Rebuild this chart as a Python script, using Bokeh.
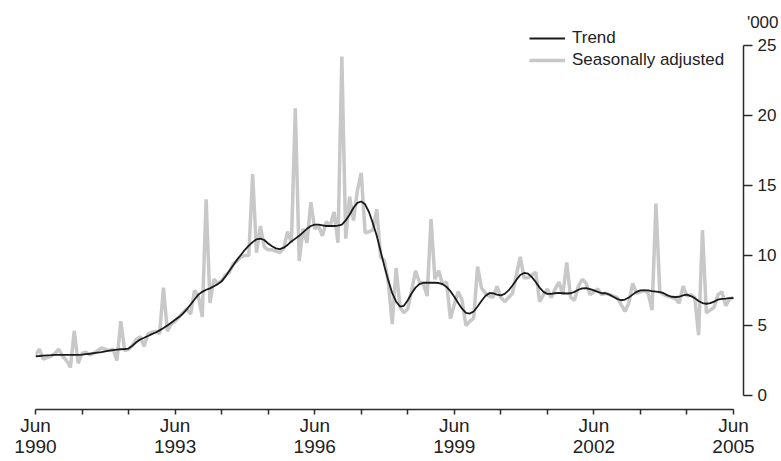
from bokeh.plotting import figure
from bokeh.models import Range1d, FixedTicker, Legend, LegendItem, Title
from bokeh.embed import file_html
from bokeh.resources import INLINE

# Monthly data, Jun 1990 .. Jun 2005 ('000)
start_year = 1990
trend = [
    2.8, 2.82, 2.85, 2.87, 2.88, 2.9, 2.9, 2.9, 2.9, 2.9, 2.9, 2.9,
    2.92, 2.95, 2.98, 3.02, 3.06, 3.1, 3.15, 3.2, 3.24, 3.28, 3.3, 3.32,
    3.35, 3.55, 3.8, 4.0, 4.12, 4.25, 4.38, 4.5, 4.65, 4.82, 5.0, 5.2,
    5.4, 5.6, 5.85, 6.15, 6.5, 6.85, 7.2, 7.4, 7.55, 7.65, 7.8, 7.95,
    8.15, 8.5, 8.9, 9.3, 9.7, 10.05, 10.4, 10.7, 10.95, 11.15, 11.2, 11.1,
    10.85, 10.65, 10.5, 10.45, 10.55, 10.75, 11.0, 11.2, 11.4, 11.65, 11.9, 12.1,
    12.2, 12.2, 12.15, 12.1, 12.1, 12.1, 12.12, 12.2, 12.5, 12.9, 13.4, 13.75,
    13.85, 13.65, 13.1, 12.3, 11.4, 10.3, 9.2, 8.2, 7.3, 6.7, 6.35, 6.4,
    6.8, 7.3, 7.7, 7.95, 8.05, 8.05, 8.05, 8.05, 8.03, 7.95, 7.75, 7.45,
    7.05, 6.6, 6.2, 5.9, 5.85, 6.0, 6.35, 6.75, 7.1, 7.3, 7.3, 7.2,
    7.15, 7.25, 7.5, 7.85, 8.25, 8.6, 8.75, 8.7, 8.45, 8.1, 7.7, 7.4,
    7.25, 7.25, 7.3, 7.32, 7.3, 7.28, 7.3, 7.4, 7.55, 7.65, 7.67, 7.6,
    7.5, 7.4, 7.3, 7.3, 7.2, 7.05, 6.9, 6.8, 6.85, 7.0, 7.2, 7.4,
    7.5, 7.5, 7.5, 7.45, 7.42, 7.38, 7.3, 7.15, 7.05, 7.03, 7.05, 7.15,
    7.2, 7.1, 6.95, 6.75, 6.6, 6.55, 6.6, 6.7, 6.85, 6.9, 6.92, 6.95, 6.95,
]
seasonally_adjusted = [
    2.9, 3.3, 2.6, 2.7, 2.8, 3.0, 3.3, 2.8, 2.5, 2.0, 4.6, 2.3,
    3.0, 3.1, 2.9, 3.0, 3.2, 3.4, 3.3, 3.2, 3.3, 2.5, 5.3, 3.2,
    3.3, 3.6, 4.0, 4.2, 3.5, 4.4, 4.5, 4.6, 4.4, 7.7, 4.6, 5.1,
    5.3, 5.6, 5.9, 6.2, 5.8, 7.5, 7.1, 5.6, 14.0, 6.6, 8.3, 8.0,
    8.2, 8.6, 8.8, 9.4, 9.6, 9.9, 10.0, 10.0, 15.8, 10.2, 12.1, 10.6,
    10.4, 10.4, 10.3, 10.2, 10.5, 11.7, 10.9, 20.5, 9.6, 11.9, 10.9, 13.8,
    11.9, 12.1, 11.4, 12.4, 12.1, 13.1, 10.9, 24.2, 11.2, 14.2, 12.5, 14.6,
    15.9, 11.6, 11.7, 11.8, 13.3, 9.9, 9.6, 8.0, 5.1, 9.1, 6.3, 5.9,
    6.2, 7.5, 8.9, 8.1, 8.0, 7.1, 12.6, 8.3, 8.9, 7.9, 8.1, 5.5,
    6.5, 7.4, 6.8, 5.0, 5.3, 5.5, 9.2, 7.7, 7.3, 7.1, 7.0, 7.8,
    7.0, 6.7, 7.0, 7.3, 8.6, 9.9, 8.4, 8.4, 8.6, 8.8, 6.7, 7.2,
    7.6, 7.0, 7.6, 8.1, 7.2, 9.5, 7.0, 6.8, 7.8, 8.3, 8.0, 7.2,
    7.4, 7.6, 7.2, 7.3, 7.2, 7.1, 7.0, 6.5, 6.0, 6.6, 8.0, 7.3,
    7.4, 7.5, 7.3, 6.1, 13.7, 7.4, 7.2, 7.1, 7.0, 6.9, 6.6, 7.8,
    7.1, 7.2, 7.0, 4.3, 11.8, 5.9, 6.1, 6.3, 7.2, 7.4, 6.4, 6.9, 7.0,
]
months = list(range(len(trend)))          # months since Jun 1990
label_years = [1990, 1993, 1996, 1999, 2002, 2005]
y_ticks = [0, 5, 10, 15, 20, 25]

p = figure(width=781, height=461,
           x_range=Range1d(0, 182.58), y_range=Range1d(-1.0, 26.2),
           y_axis_location="right",
           output_backend="svg", toolbar_location=None,
           min_border_left=35, min_border_right=38,
           min_border_top=28, min_border_bottom=52)
p.outline_line_color = None
p.grid.visible = False
p.background_fill_color = "white"

r_sa = p.line(months, seasonally_adjusted, line_color="#c8c8c8", line_width=3.5)
r_tr = p.line(months, trend, line_color="#1a1a1a", line_width=1.8)

axis_col = "#2a2a2a"
xa = p.xaxis[0]
xa.ticker = FixedTicker(ticks=list(range(0, len(trend), 12)))
xa.bounds = (0, len(trend) - 1)
overrides = {t: "" for t in range(0, len(trend), 12)}
for yr in label_years:
    overrides[(yr - start_year) * 12] = "Jun\n%d" % yr
xa.major_label_overrides = overrides
xa.minor_tick_line_color = None
xa.major_tick_in = 0
xa.major_tick_out = 5
xa.axis_line_color = axis_col
xa.axis_line_width = 1.5
xa.major_tick_line_color = axis_col
xa.major_tick_line_width = 1.5
xa.major_label_standoff = 0
xa.major_label_text_font = "Liberation Sans"
xa.major_label_text_font_size = "19px"
xa.major_label_text_color = "#222222"
xa.major_label_text_line_height = 1.0

ya = p.yaxis[0]
ya.ticker = FixedTicker(ticks=y_ticks)
ya.bounds = (0, 25)
ya.minor_tick_line_color = None
ya.major_tick_in = 0
ya.major_tick_out = 9
ya.axis_line_color = axis_col
ya.axis_line_width = 1.5
ya.major_tick_line_color = axis_col
ya.major_tick_line_width = 1.5
ya.major_label_standoff = 5
ya.major_label_text_font = "Liberation Sans"
ya.major_label_text_font_size = "17px"
ya.major_label_text_color = "#222222"

legend = Legend(items=[LegendItem(label="Trend", renderers=[r_tr]),
                       LegendItem(label="Seasonally adjusted", renderers=[r_sa])],
                location=(494, 338), glyph_width=36, glyph_height=22,
                label_height=22, spacing=0, padding=0, margin=0,
                label_standoff=7, label_text_font="Liberation Sans",
                label_text_font_size="17px", label_text_color="#222222",
                background_fill_alpha=0, border_line_alpha=0)
p.add_layout(legend)

p.add_layout(Title(text="'000", align="right", offset=-35, standoff=-6,
                   text_font="Liberation Sans", text_font_size="17px",
                   text_font_style="normal", text_color="#222222"), "above")

open("out.html", "w").write(file_html(p, INLINE))
